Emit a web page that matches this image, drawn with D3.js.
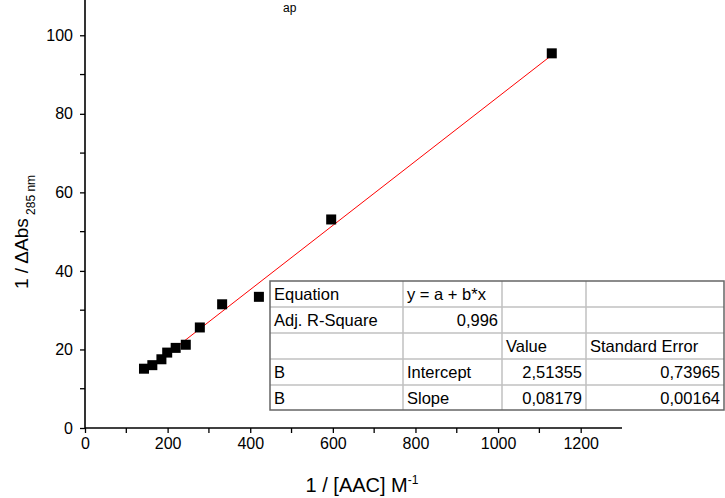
<!DOCTYPE html>
<html><head><meta charset="utf-8">
<script src="https://cdn.jsdelivr.net/npm/d3@7"></script>
<style>body{margin:0;background:#fff}svg{display:block;font-family:Arial,"Liberation Sans",sans-serif}</style>
</head><body><svg id="c" width="725" height="498"></svg>
<script>
const xValues = [142.8, 163, 185, 199, 219.5, 244, 278, 332, 421, 596, 1130];
const yValues = [15.1, 16.0, 17.5, 19.2, 20.4, 21.2, 25.6, 31.5, 33.4, 53.1, 95.4];
const fitIntercept = 2.51355, fitSlope = 0.08179;
const xTicks = [0, 200, 400, 600, 800, 1000, 1200];
const yTicks = [0, 20, 40, 60, 80, 100];
const tableRows = [
  ["Equation", "y = a + b*x", "", ""],
  ["Adj. R-Square", "0,996", "", ""],
  ["", "", "Value", "Standard Error"],
  ["B", "Intercept", "2,51355", "0,73965"],
  ["B", "Slope", "0,08179", "0,00164"]
];
const tableAlign = [
  ["start","start","start","start"],
  ["start","end","start","start"],
  ["start","start","start","start"],
  ["start","start","end","end"],
  ["start","start","end","end"]
];

const svg = d3.select("#c");
const x = d3.scaleLinear().domain([0,1300]).range([85,622]);
const y = d3.scaleLinear().domain([0,110]).range([428,-4]);

// top title subscript (title itself is off-canvas in the reference)
svg.append("text").attr("x",283).attr("y",12).attr("font-size",12).text("ap");

// axes
const xAxis = d3.axisBottom(x).tickValues(xTicks).tickFormat(d3.format("d")).tickSize(5).tickPadding(5);
const gx = svg.append("g").attr("transform","translate(0,428)").call(xAxis);
const xMinor = d3.range(100,1300,200);
gx.selectAll(".minor").data(xMinor).enter().append("line")
  .attr("x1",d=>x(d)).attr("x2",d=>x(d)).attr("y1",0).attr("y2",5).attr("stroke","#000").attr("stroke-width",1.3);
const yAxis = d3.axisLeft(y).tickValues(yTicks).tickSize(5).tickPadding(7);
const gy = svg.append("g").attr("transform","translate(85,0)").call(yAxis);
const yMinor = d3.range(10,110,20);
gy.selectAll(".minor").data(yMinor).enter().append("line")
  .attr("y1",d=>y(d)).attr("y2",d=>y(d)).attr("x1",0).attr("x2",-5).attr("stroke","#000").attr("stroke-width",1.3);
[gx,gy].forEach(g=>{
  g.select(".domain").attr("stroke-width",1.6).attr("d", g===gx ? "M85,0H622" : "M0,428V-10");
  g.selectAll(".tick line").attr("stroke-width",1.3);
  g.selectAll("text").attr("font-size",16).attr("font-family","Arial,'Liberation Sans',sans-serif").attr("fill","#000");
});

// fit line
const xf = [d3.min(xValues), d3.max(xValues)];
svg.append("line").attr("x1",x(xf[0])).attr("y1",y(fitIntercept+fitSlope*xf[0]))
  .attr("x2",x(xf[1])).attr("y2",y(fitIntercept+fitSlope*xf[1]))
  .attr("stroke","#ff0000").attr("stroke-width",1);

// points
svg.selectAll(".pt").data(xValues).enter().append("rect")
  .attr("x",(d)=>x(d)-5).attr("y",(d,i)=>y(yValues[i])-5).attr("width",10).attr("height",10).attr("fill","#000");

// table
const colX = [270,403,502,586,724];
const rowY = [281,307,333,359,385,410];
const tg = svg.append("g");
tg.append("rect").attr("x",270).attr("y",281).attr("width",454).attr("height",129).attr("fill","#fff");
for (let r=1;r<5;r++) tg.append("line").attr("x1",270).attr("x2",724).attr("y1",rowY[r]).attr("y2",rowY[r]).attr("stroke","#c0c0c0").attr("stroke-width",1.5);
for (let c=1;c<4;c++) tg.append("line").attr("y1",281).attr("y2",410).attr("x1",colX[c]).attr("x2",colX[c]).attr("stroke","#c0c0c0").attr("stroke-width",1.5);
tg.append("rect").attr("x",270).attr("y",281).attr("width",454).attr("height",129).attr("fill","none").attr("stroke","#666").attr("stroke-width",1.5);
tableRows.forEach((row,r)=>row.forEach((t,c)=>{
  if(!t) return;
  const a = tableAlign[r][c];
  tg.append("text").attr("x", a==="end" ? colX[c+1]-4 : colX[c]+4).attr("y",rowY[r]+18.5)
    .attr("text-anchor",a).attr("font-size",16.5).attr("fill","#000").text(t);
}));

// axis titles
const xt = svg.append("text").attr("x",362).attr("y",492).attr("text-anchor","middle").attr("font-size",20);
xt.append("tspan").text("1 / [AAC] M");
xt.append("tspan").attr("dy",-8).attr("font-size",12).text("-1");
const yt = svg.append("text").attr("transform","translate(28,232) rotate(-90)").attr("text-anchor","middle").attr("font-size",19);
yt.append("tspan").text("1 / ΔAbs");
yt.append("tspan").attr("dy",7).attr("font-size",12).text(" 285 nm");
</script></body></html>
